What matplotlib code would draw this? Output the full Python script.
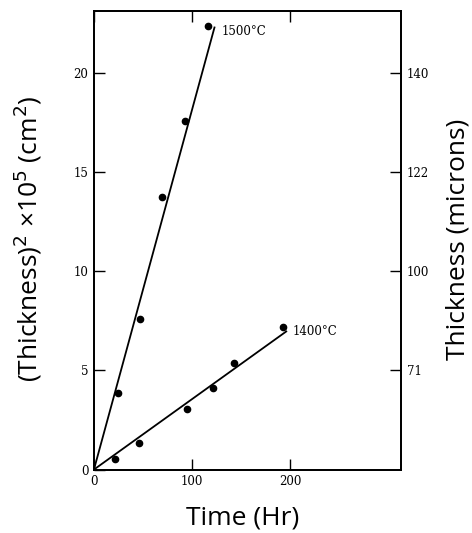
import matplotlib
matplotlib.use("Agg")
import matplotlib.pyplot as plt
import numpy as np

# Data
t_1500 = [24.8, 46.9, 69.4, 92.9, 116.7]
y_1500 = [3.85, 7.58, 13.73, 17.57, 22.33]
fit_1500_t = [0, 122.8]
fit_1500_y = [0, 22.28]

t_1400 = [21.4, 46.3, 95.3, 121.1, 142.9, 192.5]
y_1400 = [0.51, 1.32, 3.06, 4.13, 5.39, 7.18]
fit_1400_t = [0, 195.9]
fit_1400_y = [0, 6.96]

left_ticks = [0, 5, 10, 15, 20]
right_tick_pos = [5, 10, 15, 20]
right_tick_labels = ["71", "100", "122", "140"]
x_ticks = [0, 100, 200]

fig = plt.figure(figsize=(4.72, 5.33), dpi=100)
ax = fig.add_axes([0.199, 0.119, 0.651, 0.86])

ax.plot(fit_1500_t, fit_1500_y, color="black", lw=1.3)
ax.plot(fit_1400_t, fit_1400_y, color="black", lw=1.3)
ax.plot(t_1500, y_1500, "o", color="black", ms=4.5)
ax.plot(t_1400, y_1400, "o", color="black", ms=4.5)

serif = "DejaVu Serif"
ax.text(130, 22.1, "1500°C", fontsize=8.5, family=serif, va="center", ha="left")
ax.text(202, 6.94, "1400°C", fontsize=8.5, family=serif, va="center", ha="left")

ax.set_xlim(0, 313)
ax.set_ylim(0, 23.1)
ax.set_xticks(x_ticks)
ax.set_yticks(left_ticks)
ax.tick_params(direction="in", length=8, width=1, labelsize=8.5, top=True, pad=4)
for lab in ax.get_xticklabels() + ax.get_yticklabels():
    lab.set_family(serif)

ax2 = ax.twinx()
ax2.set_ylim(ax.get_ylim())
ax2.set_yticks(right_tick_pos)
ax2.set_yticklabels(right_tick_labels, family=serif)
ax2.tick_params(direction="in", length=8, width=1, labelsize=8.5, pad=4)

for a in (ax, ax2):
    for s in a.spines.values():
        s.set_linewidth(1.3)

sans = "Open Sans"
fig.text(0.513, 0.028, "Time (Hr)", family=sans, fontsize=19, ha="center", va="center")
fig.text(0.058, 0.552, "(Thickness)$^2$ ×10$^5$ (cm$^2$)", family=sans, fontsize=19,
         ha="center", va="center", rotation=90)
fig.text(0.970, 0.55, "Thickness (microns)", family=sans, fontsize=19,
         ha="center", va="center", rotation=90)

fig.savefig("out.png", dpi=100)
